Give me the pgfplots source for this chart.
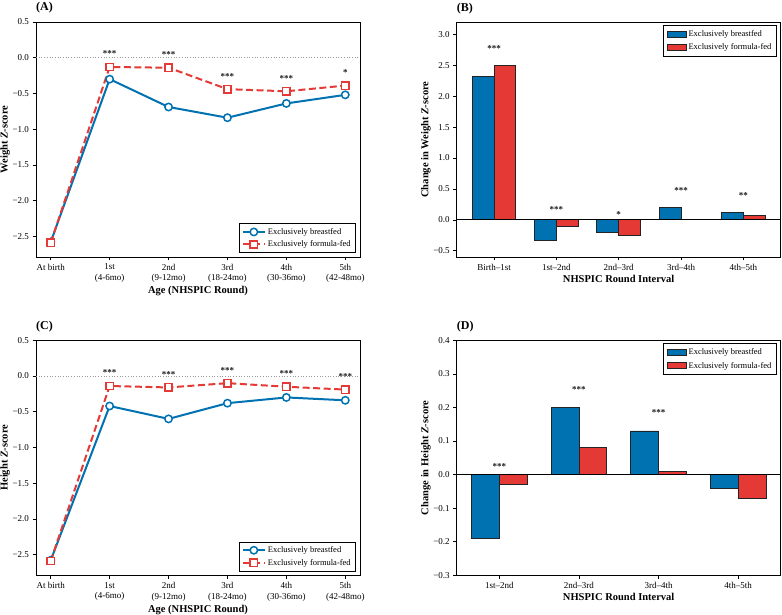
\documentclass[border=0pt]{standalone}
\usepackage{pgfplots}
\pgfplotsset{compat=1.18}
\usepackage{fontspec}
\setmainfont{Liberation Serif}

\definecolor{bfblue}{RGB}{0,114,178}
\definecolor{ffred}{RGB}{229,57,53}
\definecolor{baredge}{RGB}{35,35,35}

\pgfplotsset{
  panel/.style={
    scale only axis, width=324pt, height=235pt, anchor=south west,
    axis line style={line width=0.9pt, black},
    tick align=outside, major tick length=3.5pt,
    tick style={black, line width=0.7pt},
    tick pos=left,
    tick label style={font=\fontsize{9}{10.5}\selectfont},
    xticklabel style={align=center},
    label style={font=\bfseries\fontsize{10.5}{12}\selectfont},
    ylabel style={at={(axis description cs:-0.095,0.5)}, anchor=center},
    title style={font=\bfseries\fontsize{12}{14}\selectfont, at={(0,1)}, anchor=base west, yshift=5pt, inner sep=0pt},
    legend style={font=\fontsize{8.5}{10}\selectfont, draw=black, line width=0.6pt,
      inner xsep=3pt, inner ysep=2.5pt, row sep=1pt, cells={anchor=west}},
  },
  linepanel/.style={panel,
    xmin=-0.25, xmax=5.25, ymin=-2.79, ymax=0.5,
    xtick={0,1,2,3,4,5},
    xticklabels={At birth,{1st\\(4-6mo)},{2nd\\(9-12mo)},{3rd\\(18-24mo)},{4th\\(30-36mo)},{5th\\(42-48mo)}},
    ytick={-2.5,-2,-1.5,-1,-0.5,0,0.5},
    yticklabels={−2.5,−2.0,−1.5,−1.0,−0.5,0.0,0.5},
    xlabel={Age (NHSPIC Round)},
    xlabel style={yshift=3pt},
    legend style={at={(1,0)}, anchor=south east, xshift=-4pt, yshift=4pt},
  },
  barpanel/.style={panel,
    xlabel={NHSPIC Round Interval},
    xlabel style={yshift=2pt},
    legend style={at={(1,1)}, anchor=north east, xshift=-4pt, yshift=-3pt, inner ysep=3pt, row sep=2pt},
  },
  bfline/.style={color=bfblue, line width=2pt, mark=*, mark size=3.7pt,
    mark options={fill=white, draw=bfblue, solid, line width=1.5pt},
    legend image code/.code={\draw[mark repeat=2,mark phase=2,##1] plot coordinates {(0pt,0pt)(11pt,0pt)(22pt,0pt)};}},
  ffline/.style={color=ffred, line width=2pt, dash pattern=on 7pt off 3.5pt, mark=square*, mark size=3.7pt,
    mark options={fill=white, draw=ffred, solid, line width=1.5pt},
    legend image code/.code={\draw[mark repeat=2,mark phase=2,##1] plot coordinates {(0pt,0pt)(11pt,0pt)(22pt,0pt)};}},
  bfbar/.style={ybar, bar width=0.35, bar shift=-0.175, fill=bfblue, draw=baredge, line width=0.8pt,
    legend image code/.code={\draw[fill=bfblue, draw=baredge, line width=0.8pt] (0pt,-3pt) rectangle (19pt,3pt);}},
  ffbar/.style={ybar, bar width=0.35, bar shift=0.175, fill=ffred, draw=baredge, line width=0.8pt,
    legend image code/.code={\draw[fill=ffred, draw=baredge, line width=0.8pt] (0pt,-3pt) rectangle (19pt,3pt);}},
  stars/.style={draw=none, mark=none, forget plot, nodes near coords, point meta=explicit symbolic,
    every node near coord/.append style={anchor=center, yshift=-1.2pt, inner sep=0pt,
      font=\bfseries\fontsize{9}{9}\selectfont, text=black!90}},
  zerodot/.style={forget plot, black!40, dotted, line width=0.7pt},
  zeroline/.style={forget plot, black, line width=0.9pt},
}

\begin{document}
\begin{tikzpicture}
\useasboundingbox (0,0) rectangle (782pt,614pt);

% (A) weight z-score by round
\begin{axis}[linepanel, at={(36pt,357pt)}, title={(A)},
  ylabel={Weight \textit{Z}-score}]
\addplot[zerodot] coordinates {(-0.25,0) (5.25,0)};
\addplot[bfline] coordinates {(0,-2.58) (1,-0.30) (2,-0.69) (3,-0.84) (4,-0.64) (5,-0.52)};
\addlegendentry{Exclusively breastfed}
\addplot[ffline] coordinates {(0,-2.59) (1,-0.13) (2,-0.14) (3,-0.44) (4,-0.47) (5,-0.39)};
\addlegendentry{Exclusively formula-fed}
\addplot[stars] coordinates {(1,0.07) [***] (2,0.06) [***] (3,-0.24) [***] (4,-0.27) [***] (5,-0.19) [*]};
\end{axis}

% (B) change in weight z-score between rounds
\begin{axis}[barpanel, at={(456.7pt,357pt)}, title={(B)},
  xmin=-0.6, xmax=4.6, ymin=-0.6, ymax=3.2,
  xtick={0,1,2,3,4},
  xticklabels={Birth–1st,1st–2nd,2nd–3rd,3rd–4th,4th–5th},
  ytick={-0.5,0,0.5,1,1.5,2,2.5,3},
  yticklabels={−0.5,0.0,0.5,1.0,1.5,2.0,2.5,3.0},
  ylabel={Change in Weight \textit{Z}-score}]
\addplot[bfbar] coordinates {(0,2.32) (1,-0.33) (2,-0.20) (3,0.20) (4,0.12)};
\addlegendentry{Exclusively breastfed}
\addplot[ffbar] coordinates {(0,2.50) (1,-0.11) (2,-0.25) (3,0.005) (4,0.07)};
\addlegendentry{Exclusively formula-fed}
\addplot[zeroline] coordinates {(-0.6,0) (4.6,0)};
\addplot[stars] coordinates {(0,2.79) [***] (1,0.18) [***] (2,0.10) [*] (3,0.50) [***] (4,0.42) [**]};
\end{axis}

% (C) height z-score by round
\begin{axis}[linepanel, at={(36pt,38.7pt)}, title={(C)},
  ylabel={Height \textit{Z}-score}]
\addplot[zerodot] coordinates {(-0.25,0) (5.25,0)};
\addplot[bfline] coordinates {(0,-2.58) (1,-0.42) (2,-0.60) (3,-0.38) (4,-0.30) (5,-0.34)};
\addlegendentry{Exclusively breastfed}
\addplot[ffline] coordinates {(0,-2.59) (1,-0.14) (2,-0.16) (3,-0.10) (4,-0.15) (5,-0.19)};
\addlegendentry{Exclusively formula-fed}
\addplot[stars] coordinates {(1,0.06) [***] (2,0.04) [***] (3,0.10) [***] (4,0.05) [***] (5,0.01) [***]};
\end{axis}

% (D) change in height z-score between rounds
\begin{axis}[barpanel, at={(456.7pt,38.7pt)}, title={(D)},
  xmin=-0.535, xmax=3.535, ymin=-0.3, ymax=0.4,
  xtick={0,1,2,3},
  xticklabels={1st–2nd,2nd–3rd,3rd–4th,4th–5th},
  ytick={-0.3,-0.2,-0.1,0,0.1,0.2,0.3,0.4},
  yticklabels={−0.3,−0.2,−0.1,0.0,0.1,0.2,0.3,0.4},
  ylabel={Change in Height \textit{Z}-score}]
\addplot[bfbar] coordinates {(0,-0.19) (1,0.20) (2,0.13) (3,-0.04)};
\addlegendentry{Exclusively breastfed}
\addplot[ffbar] coordinates {(0,-0.03) (1,0.08) (2,0.01) (3,-0.07)};
\addlegendentry{Exclusively formula-fed}
\addplot[zeroline] coordinates {(-0.535,0) (3.535,0)};
\addplot[stars] coordinates {(0,0.028) [***] (1,0.257) [***] (2,0.187) [***]};
\end{axis}
\end{tikzpicture}
\end{document}
